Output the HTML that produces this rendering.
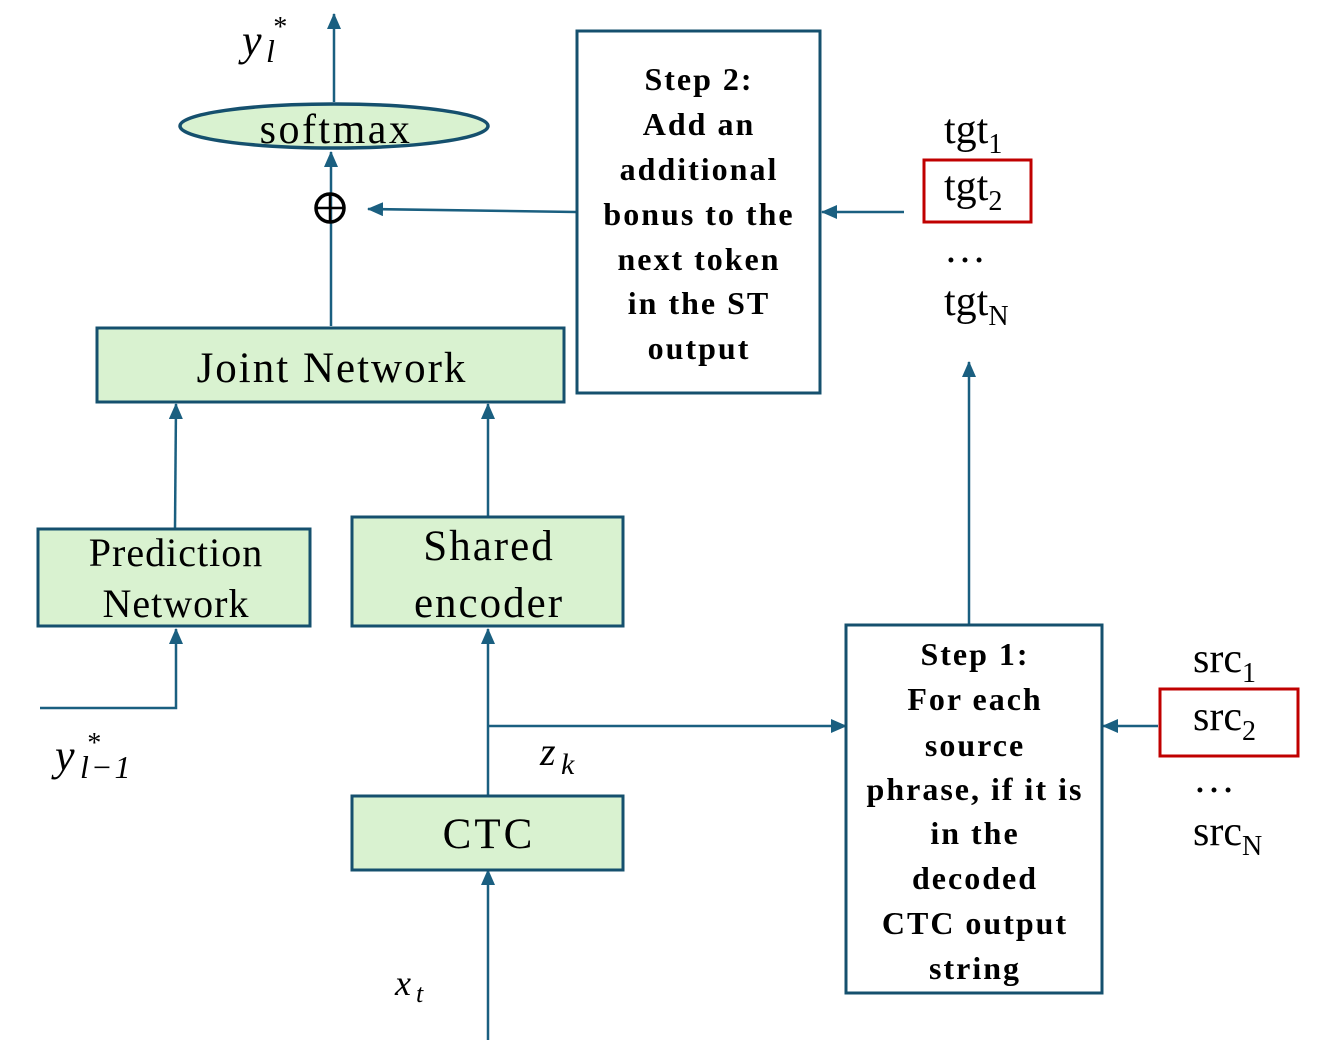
<!DOCTYPE html>
<html><head><meta charset="utf-8"><style>
html,body{margin:0;padding:0;background:#fff}
svg{display:block}
.s{font-family:"Liberation Serif",serif}
</style></head><body>
<svg width="1322" height="1057" viewBox="0 0 1322 1057" xmlns="http://www.w3.org/2000/svg">
<defs>
<marker id="b" markerWidth="16" markerHeight="14" refX="15" refY="7" orient="auto" markerUnits="userSpaceOnUse" viewBox="0 0 16 14">
<path d="M0,0 L16,7 L0,14 z" fill="#1a5f80"/></marker>
</defs>
<g stroke="#1a5f80" stroke-width="2.5" fill="none">
<line x1="334" y1="102" x2="334" y2="14" marker-end="url(#b)"/>
<line x1="331" y1="240" x2="331" y2="152" marker-end="url(#b)"/>
<line x1="331" y1="326" x2="331" y2="240"/>
<line x1="576" y1="212" x2="368" y2="209" marker-end="url(#b)"/>
<line x1="904" y1="212" x2="822" y2="212" marker-end="url(#b)"/>
<line x1="175" y1="528" x2="176" y2="404" marker-end="url(#b)"/>
<line x1="488" y1="516" x2="488" y2="404" marker-end="url(#b)"/>
<polyline points="40,708 176,708 176,629" marker-end="url(#b)"/>
<line x1="488" y1="795" x2="488" y2="629" marker-end="url(#b)"/>
<line x1="488" y1="726" x2="846" y2="726" marker-end="url(#b)"/>
<line x1="488" y1="1040" x2="488" y2="870" marker-end="url(#b)"/>
<line x1="969" y1="624" x2="969" y2="362" marker-end="url(#b)"/>
<line x1="1158" y1="726" x2="1103" y2="726" marker-end="url(#b)"/>
</g>
<ellipse cx="334" cy="126" rx="154" ry="22" fill="#d9f2d0" stroke="#15506e" stroke-width="3.5"/>
<text x="336" y="143" class="s" font-size="42" letter-spacing="2.5" text-anchor="middle">softmax</text>
<circle cx="330" cy="208" r="14" fill="none" stroke="#000" stroke-width="3.5"/>
<line x1="316" y1="208" x2="344" y2="208" stroke="#000" stroke-width="2.5"/>
<line x1="330" y1="194" x2="330" y2="222" stroke="#000" stroke-width="2.5"/>
<g fill="#d9f2d0" stroke="#15506e" stroke-width="3">
<rect x="97" y="328" width="467" height="74"/>
<rect x="38" y="529" width="272" height="97"/>
<rect x="352" y="517" width="271" height="109"/>
<rect x="352" y="796" width="271" height="74"/>
</g>
<g class="s" font-size="43" text-anchor="middle" letter-spacing="2">
<text x="332" y="382">Joint Network</text>
<text x="176" y="566" font-size="40" letter-spacing="1">Prediction</text>
<text x="176" y="617" font-size="40" letter-spacing="1">Network</text>
<text x="489" y="560">Shared</text>
<text x="489" y="617">encoder</text>
<text x="489" y="848" letter-spacing="3">CTC</text>
</g>
<g fill="#fff" stroke="#15506e" stroke-width="3">
<rect x="577" y="31" width="243" height="362"/>
<rect x="846" y="625" width="256" height="368"/>
</g>
<g class="s" font-size="32" font-weight="bold" text-anchor="middle" letter-spacing="2">
<text x="699" y="90">Step 2:</text>
<text x="699" y="135">Add an</text>
<text x="699" y="180">additional</text>
<text x="699" y="225">bonus to the</text>
<text x="699" y="270">next token</text>
<text x="699" y="314">in the ST</text>
<text x="699" y="359">output</text>
<text x="975" y="665">Step 1:</text>
<text x="975" y="710">For each</text>
<text x="975" y="756">source</text>
<text x="975" y="800">phrase, if it is</text>
<text x="975" y="844">in the</text>
<text x="975" y="889">decoded</text>
<text x="975" y="934">CTC output</text>
<text x="975" y="979">string</text>
</g>
<g fill="none" stroke="#c00000" stroke-width="3">
<rect x="924" y="160" width="107" height="62"/>
<rect x="1160" y="689" width="138" height="67"/>
</g>
<g class="s" font-size="42">
<text x="944" y="143">tgt<tspan font-size="28" dy="10">1</tspan></text>
<text x="944" y="200">tgt<tspan font-size="28" dy="10">2</tspan></text>
<text x="944" y="262">…</text>
<text x="944" y="315">tgt<tspan font-size="28" dy="10">N</tspan></text>
<text x="1193" y="672">src<tspan font-size="28" dy="10">1</tspan></text>
<text x="1193" y="730">src<tspan font-size="28" dy="10">2</tspan></text>
<text x="1193" y="792">…</text>
<text x="1193" y="845">src<tspan font-size="28" dy="10">N</tspan></text>
</g>
<g class="s" font-style="italic">
<text x="242" y="55" font-size="44">y</text><text x="266" y="62" font-size="32">l</text><text x="272" y="36" font-size="28">*</text>
<text x="55" y="770" font-size="44">y</text><text x="80" y="778" font-size="32" letter-spacing="2">l−1</text><text x="86" y="752" font-size="28">*</text>
<text x="540" y="765" font-size="40">z</text><text x="561" y="774" font-size="30">k</text>
<text x="395" y="995" font-size="36">x</text><text x="416" y="1002" font-size="26">t</text>
</g>
</svg>
</body></html>
